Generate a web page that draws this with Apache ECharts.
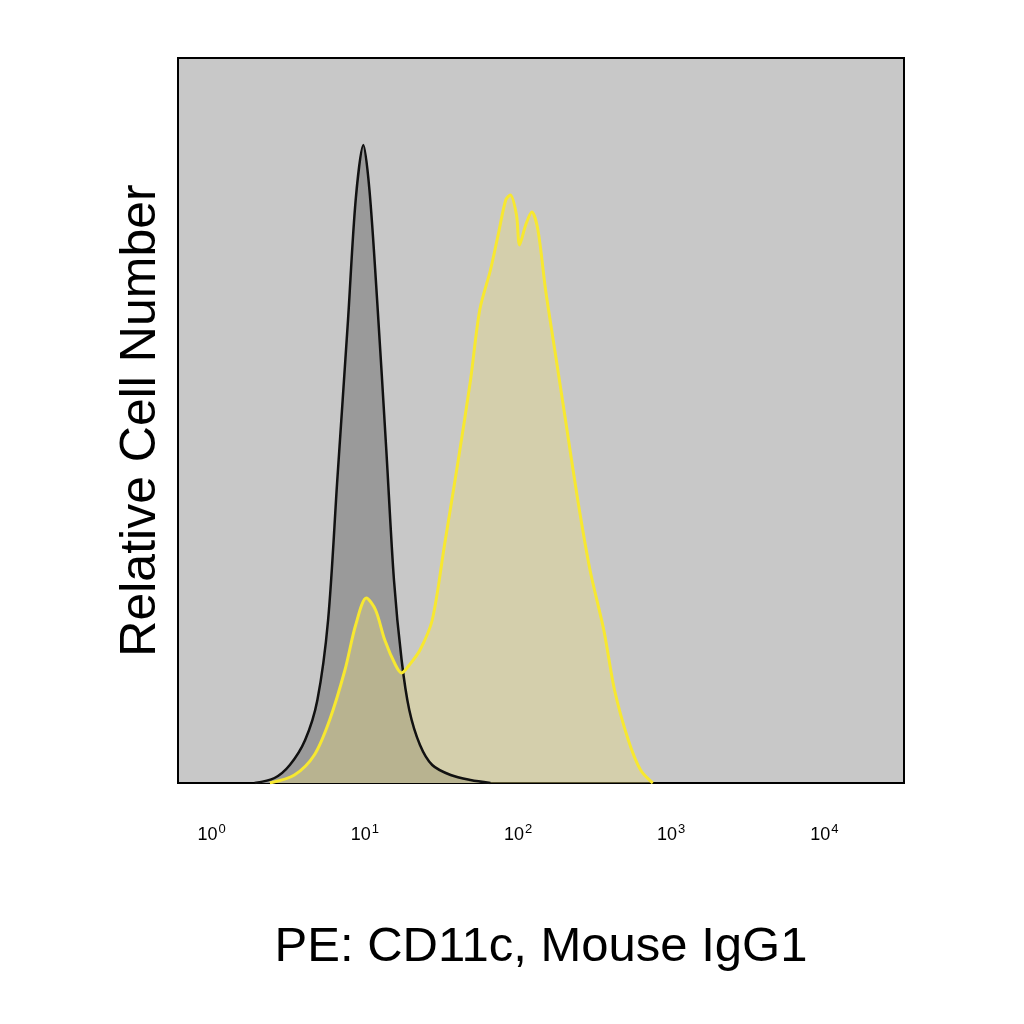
<!DOCTYPE html>
<html><head><meta charset="utf-8">
<script src="https://cdn.jsdelivr.net/npm/echarts@6/dist/echarts.min.js"></script>
<style>html,body{margin:0;background:#fff}#c{width:1024px;height:1024px}</style>
</head><body><div id="c"></div>
<script>
// x values are log10(fluorescence), y values relative cell count
const ISO_X = [0.28,0.41,0.51,0.61,0.69,0.76,0.82,0.89,0.94,0.99,1.03,1.08,1.14,1.19,1.24,1.29,1.36,1.44,1.56,1.69,1.82];
const ISO_Y = [0,5,18,43,83,163,303,463,583,638,593,483,333,203,123,73,38,18,8,3,0];
const CD_X = [0.38,0.54,0.67,0.77,0.87,0.94,1.01,1.07,1.13,1.20,1.24,1.29,1.36,1.44,1.52,1.61,1.69,1.75,1.82,1.87,1.92,1.95,1.99,2.01,2.05,2.09,2.13,2.18,2.24,2.31,2.39,2.47,2.56,2.63,2.72,2.80,2.88];
const CD_Y = [0,8,28,63,113,158,185,173,143,118,110,118,133,163,238,323,403,473,513,548,583,588,568,538,558,571,553,493,433,363,283,213,153,93,43,13,0];
const TICKS = [0,1,2,3,4];

const chart = echarts.init(document.getElementById('c'));
const zip = (xs, ys) => xs.map((x, i) => [x, ys[i]]);
chart.setOption({
  backgroundColor: '#fff',
  animation: false,
  grid: { left: 178, right: 120, top: 58, bottom: 241, show: true, backgroundColor: '#c8c8c8', borderColor: '#000', borderWidth: 2 },
  xAxis: {
    type: 'value', min: -0.22, max: 4.52,
    axisLine: { show: false }, axisTick: { show: false }, splitLine: { show: false },
    axisLabel: {
      margin: 40,
      customValues: TICKS,
      formatter: v => '{b|10}{s|' + v + '}',
      rich: { b: { fontSize: 18, fontFamily: 'Liberation Sans', color: '#000' }, s: { fontSize: 13, fontFamily: 'Liberation Sans', color: '#000', verticalAlign: 'top', padding: [0, 0, 12, 1] } }
    },
    name: 'PE: CD11c, Mouse IgG1', nameLocation: 'middle', nameGap: 140,
    nameTextStyle: { fontSize: 49, fontFamily: 'Liberation Sans', color: '#000' }
  },
  yAxis: {
    type: 'value', min: 0, max: 725,
    axisLine: { show: false }, axisTick: { show: false }, splitLine: { show: false }, axisLabel: { show: false },
    name: 'Relative Cell Number', nameLocation: 'middle', nameGap: 12,
    nameTextStyle: { fontSize: 50, fontFamily: 'Liberation Sans', color: '#000' }
  },
  series: [
    { type: 'line', data: zip(ISO_X, ISO_Y), smooth: 0.3, symbol: 'none',
      lineStyle: { color: '#111', width: 2.5 }, areaStyle: { color: '#9a9a9a', opacity: 1 } },
    { type: 'line', data: zip(CD_X, CD_Y), smooth: 0.3, symbol: 'none',
      lineStyle: { color: '#f7e830', width: 3 }, areaStyle: { color: 'rgba(232,218,128,0.55)' } }
  ]
});
</script></body></html>
